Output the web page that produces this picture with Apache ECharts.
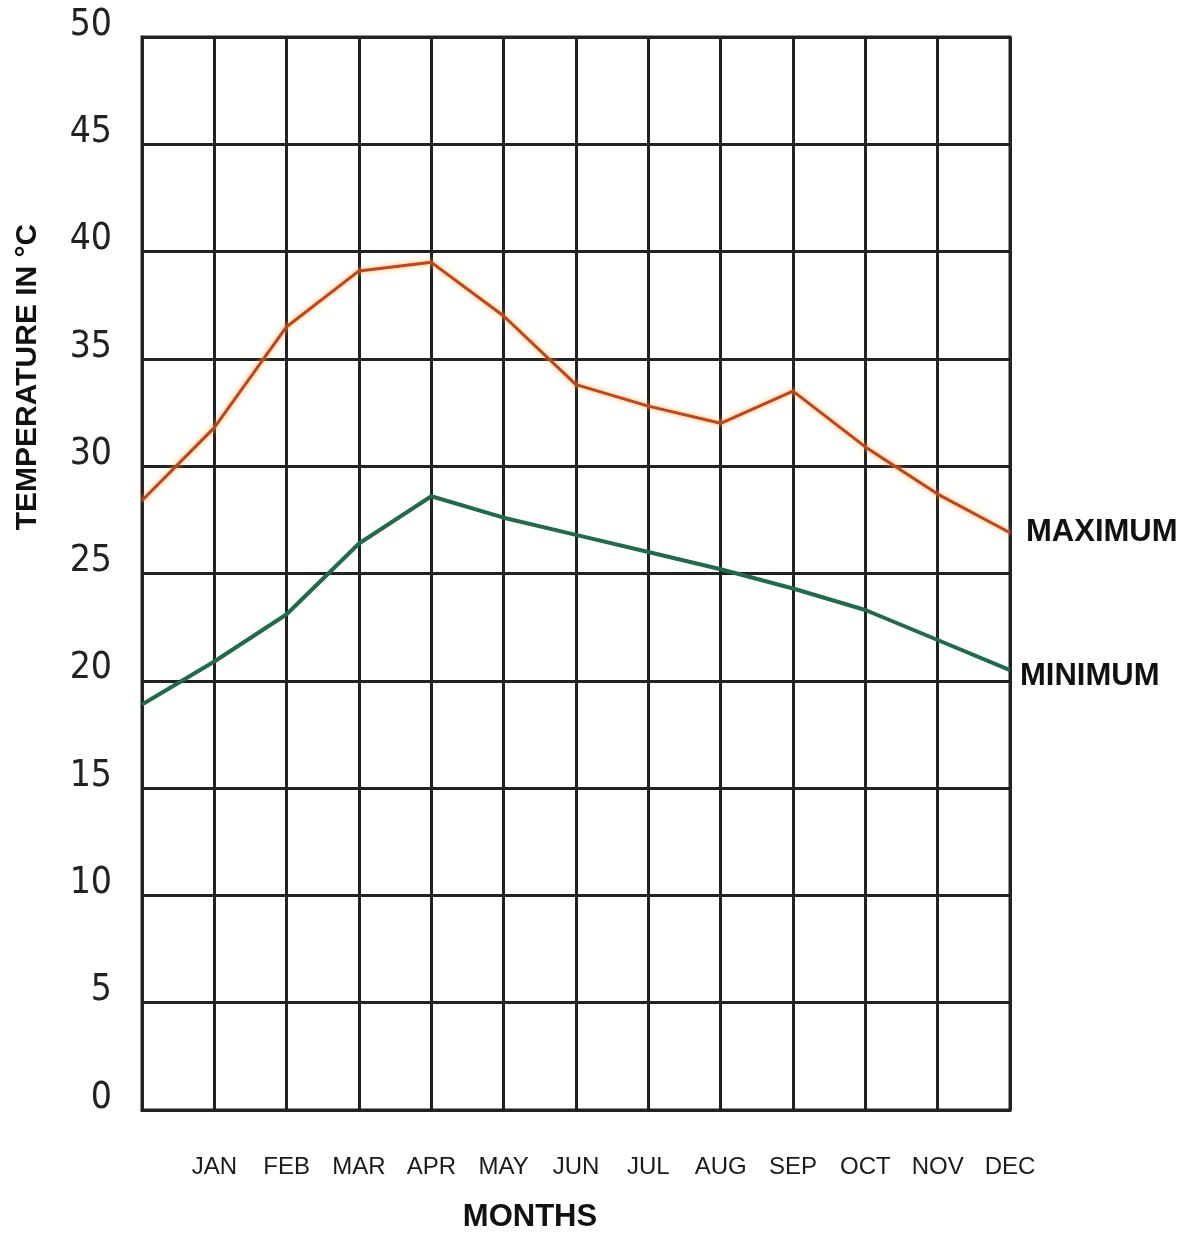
<!DOCTYPE html>
<html>
<head>
<meta charset="utf-8">
<script src="https://cdn.jsdelivr.net/npm/echarts@6/dist/echarts.min.js"></script>
<style>
  html, body { margin: 0; padding: 0; background: #fff; }
  #chart { width: 1192px; height: 1235px; }
</style>
</head>
<body>
<div id="chart"></div>
<script>
// first slot is the start of the year (no label), then one slot per month
const months = ["", "JAN", "FEB", "MAR", "APR", "MAY", "JUN", "JUL", "AUG", "SEP", "OCT", "NOV", "DEC"];
const maxTemps = [28.4, 31.8, 36.5, 39.1, 39.5, 37.0, 33.8, 32.8, 32.0, 33.5, 30.9, 28.7, 26.9];
const minTemps = [18.9, 20.9, 23.1, 26.4, 28.6, 27.6, 26.8, 26.0, 25.2, 24.3, 23.3, 21.9, 20.5];
const yTicks = [0, 5, 10, 15, 20, 25, 30, 35, 40, 45, 50];

const gridColor = "#222";
const sans = "'Liberation Sans', Arial, sans-serif";

const chart = echarts.init(document.getElementById("chart"));

const option = {
  animation: false,
  backgroundColor: "#fff",
  grid: {
    left: 142,
    right: 182,
    top: 37,
    bottom: 125,
    show: true,
    borderColor: gridColor,
    borderWidth: 3,
  },
  xAxis: {
    type: "category",
    data: months,
    boundaryGap: false,
    axisLine: { lineStyle: { color: gridColor, width: 3 } },
    axisTick: { show: false },
    axisLabel: {
      interval: 0,
      margin: 45,
      fontSize: 24,
      fontFamily: sans,
      color: "#1a1a1a",
    },
    splitLine: { show: true, lineStyle: { color: gridColor, width: 3 } },
  },
  yAxis: {
    type: "value",
    min: yTicks[0],
    max: yTicks[yTicks.length - 1],
    interval: 5,
    axisLine: { show: true, lineStyle: { color: gridColor, width: 3 } },
    axisTick: { show: false },
    axisLabel: {
      margin: 30,
      fontSize: 37,
      fontFamily: "'Liberation Sans Narrow', 'DejaVu Sans Condensed', sans-serif",
      color: "#222",
      verticalAlign: "bottom",
      lineHeight: 24,
    },
    splitLine: { show: true, lineStyle: { color: gridColor, width: 3 } },
  },
  graphic: [
    {
      type: "text",
      x: 28,
      y: 377,
      rotation: Math.PI / 2,
      style: {
        text: "TEMPERATURE IN °C",
        font: "bold 30px " + sans,
        fill: "#111",
        align: "center",
        verticalAlign: "middle",
      },
    },
    {
      type: "text",
      x: 530,
      y: 1217,
      style: {
        text: "MONTHS",
        font: "bold 31px " + sans,
        fill: "#111",
        align: "center",
        verticalAlign: "middle",
      },
    },
  ],
  series: [
    {
      name: "MAXIMUM",
      type: "line",
      data: maxTemps,
      symbol: "none",
      lineStyle: {
        color: "#c4421c",
        width: 3,
        shadowColor: "rgba(255,175,60,0.9)",
        shadowBlur: 5,
      },
      endLabel: {
        show: true,
        formatter: "{a}",
        distance: 16,
        fontSize: 31,
        fontWeight: "bold",
        fontFamily: sans,
        color: "#111",
      },
      z: 3,
    },
    {
      name: "MINIMUM",
      type: "line",
      data: minTemps,
      symbol: "none",
      lineStyle: { color: "#1f6b4a", width: 4 },
      endLabel: {
        show: true,
        formatter: "{a}",
        distance: 10,
        fontSize: 31,
        fontWeight: "bold",
        fontFamily: sans,
        color: "#111",
        offset: [0, 6],
      },
      z: 3,
    },
  ],
};

chart.setOption(option);
</script>
</body>
</html>
